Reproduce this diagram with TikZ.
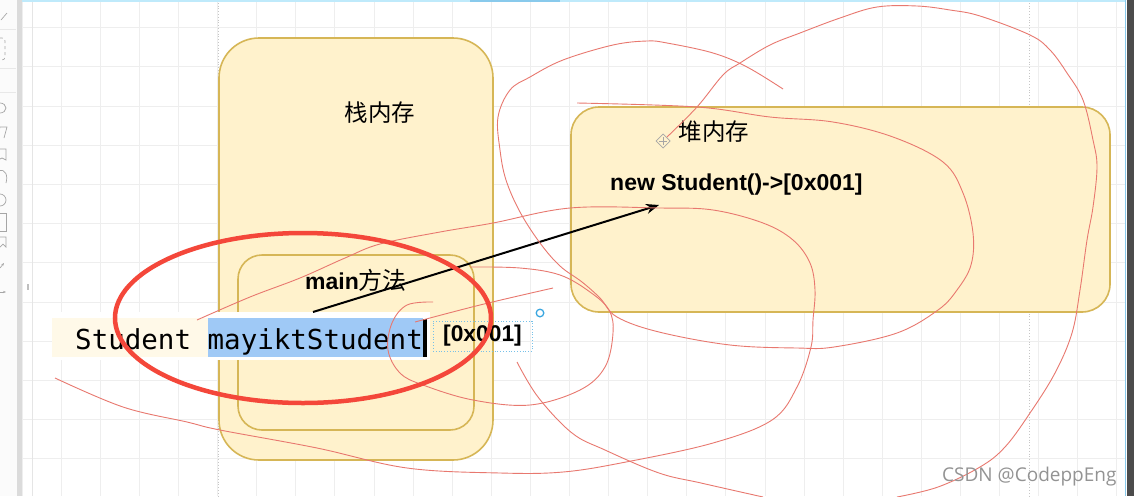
\documentclass[tikz,border=0pt]{standalone}
\usepackage{fontspec}
\setmainfont{Liberation Sans}
\newfontfamily\cjk{Noto Sans CJK SC}
\newfontfamily\codefont{DejaVu Sans Mono}
\newfontfamily\markfont{Open Sans}
\usetikzlibrary{arrows.meta,positioning}
\definecolor{memfill}{HTML}{FFF2CC}
\definecolor{memline}{HTML}{D6B656}
\definecolor{pen}{HTML}{F4473A}
\definecolor{thinpen}{HTML}{E8786F}
\definecolor{selblue}{HTML}{9FC9F6}
\definecolor{gridgray}{HTML}{EEEEEE}
\definecolor{drawioblue}{HTML}{3BA7E0}
\begin{document}
\begin{tikzpicture}
[x=1pt, y=-1pt, font=\fontsize{23}{27}\selectfont]
\tikzstyle{membox}=[draw=memline, fill=memfill, line width=1.6pt, inner sep=0pt]
\tikzstyle{cjklabel}=[inner sep=0pt, font=\fontsize{23.5}{28}\selectfont\cjk]
\tikzstyle{boldlabel}=[inner sep=0pt, anchor=base west, font=\fontsize{23}{27}\selectfont\bfseries]
\tikzstyle{codeline}=[inner sep=0pt, anchor=base west, font=\fontsize{27.5}{32}\selectfont\codefont]
\tikzstyle{gridline}=[gridgray, line width=0.8pt]
\tikzstyle{pagebreak}=[gray!45, dotted, line width=0.8pt]
\tikzstyle{scribble}=[thinpen, line width=0.9pt, line join=round]
\tikzstyle{redpen}=[pen, line width=4.5pt]
\tikzstyle{pointer}=[-{Stealth[length=13pt,width=10pt]}, line width=2pt]
\tikzstyle{icon}=[gray!70, line width=0.7pt]

\useasboundingbox (0,0) rectangle (1134,496);
% canvas and grid
\fill[white] (0,0) rectangle (1134,496);
\foreach \i in {0,...,28} \draw[gridline] ({22+39.1*\i},0) -- ({22+39.1*\i},496);
\foreach \j in {0,...,11} \draw[gridline] (22,{27.5+39.2*\j}) -- (1125,{27.5+39.2*\j});
\draw[pagebreak] (218,0) -- (218,496);
\draw[pagebreak] (1029,0) -- (1029,496);

% side panel and window edges
\fill[gray!3] (0,0) rectangle (17,496);
\fill[gray!28] (17,0) rectangle (22,496);
\draw[gray!20] (32,0) -- (32,496);
\draw[gray!50, line width=1.5pt] (28,284) -- (28,290);
\foreach \sy in {29,68,92} \draw[gray!18] (0,\sy) -- (16,\sy);
\draw[icon] (1,20) -- (7,13);
\draw[icon, dashed, rounded corners=3pt] (-4,38) rectangle (5,60);
\draw[icon] (0,108) ellipse [x radius=6, y radius=5];
\draw[icon] (-3,138) -- (0,127) -- (7,127) -- (4,138);
\draw[icon] (-2,149) -- (6,149) -- (6,160) -- (2,158) -- (-2,160);
\draw[icon] (-2,171) .. controls (6,168) and (8,176) .. (6,183);
\draw[icon] (0,200) circle [radius=6];
\draw[icon] (-3,213) rectangle (6,231);
\draw[icon] (-2,237) -- (6,237) -- (6,247) -- (3,244) -- (0,247);
\draw[icon, -{Stealth[length=3pt]}] (0,268) -- (4,263);
\draw[icon, -{Stealth[length=3pt]}] (-2,292) -- (6,292);
\fill[black!70] (1127,0) rectangle (1134,496);
\draw[drawioblue!60, line width=1pt] (1125,0) -- (1125,496);
\draw[cyan!25, line width=1.5pt] (22,0.75) -- (1125,0.75);
\draw[drawioblue!60, line width=2pt] (470,1) -- (560,1);

% memory areas
\node[membox, minimum width=274pt, minimum height=422pt, rounded corners=40pt] (stack) at (356,249) {};
\node[membox, minimum width=236pt, minimum height=175pt, rounded corners=24pt] (mainframe) at (356,342.5) {};
\node[membox, minimum width=539pt, minimum height=205pt, rounded corners=28pt] (heap) at (840.5,209.5) {};
\node[cjklabel] (stacklbl) at (380,113) {栈内存};
\node[cjklabel] (heaplbl) at (714,132) {堆内存};
\node[boldlabel] (objlbl) at (610,190.5) {new Student()->[0x001]};
\node[boldlabel] (mainlbl) at (305,289) {main{\cjk\mdseries\fontsize{24}{28}\selectfont 方法}};
\draw[icon] (663,134) -- (670,141) -- (663,148) -- (656,141) -- cycle;
\draw[icon] (659,141) -- (667,141) (663,137) -- (663,145);

% code being edited
\fill[white] (52,312) rectangle (430,360);
\fill[memfill!45] (52,318) rectangle (208,357);
\fill[selblue] (208,318) rectangle (423,357);
\node[codeline] (decl) at (75,349.5) {Student mayiktStudent};
\fill[black] (423,319) rectangle (427,357);
\node[draw=drawioblue!70, dotted, line width=0.8pt, minimum width=99pt, minimum height=30pt, inner sep=0pt, font=\fontsize{22.8}{27}\selectfont\bfseries] (addr) at (482.5,336) {[0x001]};
\draw[drawioblue, line width=1.3pt] (540,313) circle [radius=3.8];

% reference arrow
\coordinate (varref) at (313,312);
\coordinate (objref) at (659,205);
\draw[pointer] (varref) -- (objref);

% pen scribbles
\draw[scribble] plot[smooth, tension=0.6] coordinates {(783,89) (747,67) (713,53) (667,43) (647,41) (613,45) (563,60) (530,77) (510,90) (498,117) (500,150) (506,180) (520,212) (540,243) (560,266) (582,282) (600,298) (617,317) (659,332) (730,345) (797,348) (834,347) (897,333) (938,310) (957,290) (971,265) (973,233) (963,193) (943,162) (893,137) (833,122) (770,117) (697,107) (577,103)};
\draw[scribble] plot[smooth, tension=0.6] coordinates {(667,137) (697,107) (723,75) (740,63) (770,45) (800,33) (840,18) (877,7) (917,6) (950,10) (980,16) (1030,35) (1050,50) (1067,73) (1083,100) (1093,140) (1097,167) (1093,207) (1087,240) (1080,290) (1072,333) (1055,373) (1030,413) (1005,447) (980,467) (938,487) (897,497)};
\draw[scribble] plot[smooth, tension=0.6] coordinates {(197,320) (250,297) (300,278) (345,258) (380,244) (440,232) (493,223) (570,208) (660,208) (713,210) (763,223) (793,240) (810,263) (815,290) (813,320) (811,347) (797,387) (772,420) (713,443) (626,462) (563,472) (500,473) (407,468) (317,448) (220,430) (187,422) (123,407) (55,378)};
\draw[scribble] plot[smooth, tension=0.6] coordinates {(433,302) (407,305) (392,323) (388,350) (400,373) (423,385) (473,400) (530,405) (580,390) (605,367) (613,333) (609,310) (590,292) (560,275) (520,268) (470,267)};
\draw[scribble] plot[smooth, tension=0.6] coordinates {(415,322) (480,305) (553,288)};
\draw[scribble] plot[smooth, tension=0.6] coordinates {(517,362) (538,397) (572,433) (605,450) (659,473) (701,483) (763,497)};
\draw[redpen] (303,318) ellipse [x radius=188, y radius=85];

% watermark
\node[anchor=base west, inner sep=0pt, text=gray!85, font=\fontsize{19}{22}\selectfont\markfont] (mark) at (942,481) {CSDN @CodeppEng};
\end{tikzpicture}
\end{document}
